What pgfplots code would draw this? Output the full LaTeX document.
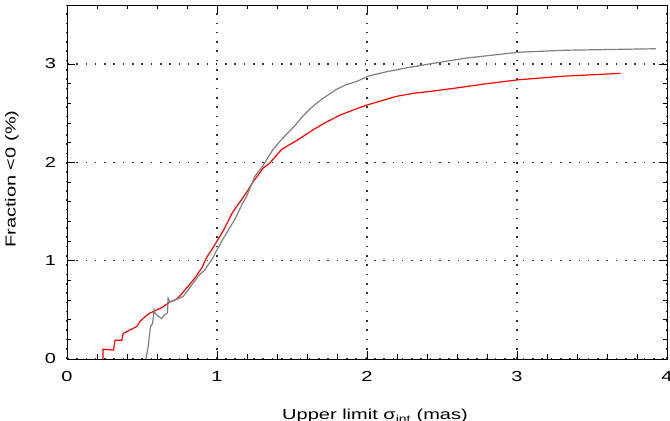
\documentclass[border=0pt]{standalone}
\usepackage{fontspec}
\setmainfont{Liberation Sans}[FakeStretch=1.38]
\usepackage{pgfplots}
\pgfplotsset{compat=1.18}

\definecolor{curvegray}{RGB}{128,128,128}

\begin{document}
\begin{tikzpicture}
\fontsize{14.5}{17}\selectfont
\begin{axis}[name=ax,
  scale only axis, width=600pt, height=354pt,
  xmin=0, xmax=4, ymin=0, ymax=3.6,
  xtick={0,1,2,3,4}, ytick={0,1,2,3},
  minor tick num=4,
  tick align=inside, tick pos=both,
  major tick length=8pt, minor tick length=4.5pt,
  axis line style={line width=0.9pt},
  every tick/.style={black, line width=0.9pt},
  grid=major,
  major grid style={black!80, line width=1.1pt, dash pattern=on 1.6pt off 7.7pt},
  /pgf/number format/assume math mode=true,
  tick label style={font=\fontsize{14.5}{17}\selectfont},
  xticklabel style={yshift=-7pt},
  yticklabel style={xshift=-6pt},
  xlabel={Upper limit σ\textsubscript{int} (mas)},
  ylabel={Fraction <0 (\%)},
  xlabel style={at={(axis description cs:0.5,0)}, anchor=base, yshift=-61pt, xshift=8pt},
  ylabel style={at={(axis description cs:-0.092,0.508)}, anchor=center},
]
% red curve
\addplot[red, line width=1.2pt] coordinates {
(0.24,0) (0.24,0.10) (0.31,0.09) (0.32,0.19) (0.365,0.19) (0.375,0.26)
(0.42,0.295) (0.465,0.33) (0.486,0.38) (0.52,0.43) (0.55,0.465) (0.60,0.50)
(0.64,0.53) (0.685,0.58) (0.72,0.60) (0.75,0.635) (0.785,0.70) (0.83,0.78)
(0.865,0.85) (0.90,0.93) (0.93,1.03) (0.973,1.13) (1.04,1.30) (1.107,1.50)
(1.173,1.64) (1.22,1.75) (1.24,1.80) (1.284,1.89) (1.306,1.94) (1.35,1.99)
(1.43,2.13) (1.484,2.18) (1.53,2.22) (1.58,2.27) (1.64,2.33) (1.73,2.41)
(1.82,2.48) (1.905,2.53) (1.994,2.58) (2.083,2.62) (2.194,2.67) (2.30,2.70)
(2.415,2.72) (2.615,2.76) (2.80,2.80) (3.014,2.84) (3.30,2.875) (3.69,2.905)
};
% grey curve
\addplot[curvegray, line width=1.2pt] coordinates {
(0.526,0) (0.541,0.125) (0.557,0.33) (0.57,0.36) (0.581,0.50) (0.585,0.47)
(0.597,0.45) (0.63,0.41) (0.652,0.45) (0.67,0.47) (0.674,0.62) (0.685,0.58)
(0.72,0.60) (0.774,0.635) (0.807,0.70) (0.84,0.77) (0.885,0.86) (0.918,0.905)
(0.973,1.03) (0.996,1.10) (1.04,1.22) (1.063,1.28) (1.107,1.39) (1.129,1.45)
(1.173,1.59) (1.196,1.65) (1.24,1.81) (1.251,1.855) (1.306,1.965) (1.373,2.13)
(1.44,2.25) (1.506,2.35) (1.572,2.47) (1.639,2.57) (1.706,2.65) (1.794,2.74)
(1.861,2.79) (1.927,2.82) (2.016,2.88) (2.127,2.92) (2.26,2.96) (2.415,3.00)
(2.66,3.06) (3.014,3.12) (3.325,3.14) (3.925,3.155)
};
\end{axis}
\pgfresetboundingbox
\path ([shift={(-67pt,-62pt)}]ax.south west) rectangle ([shift={(3pt,5pt)}]ax.north east);
\end{tikzpicture}
\end{document}
